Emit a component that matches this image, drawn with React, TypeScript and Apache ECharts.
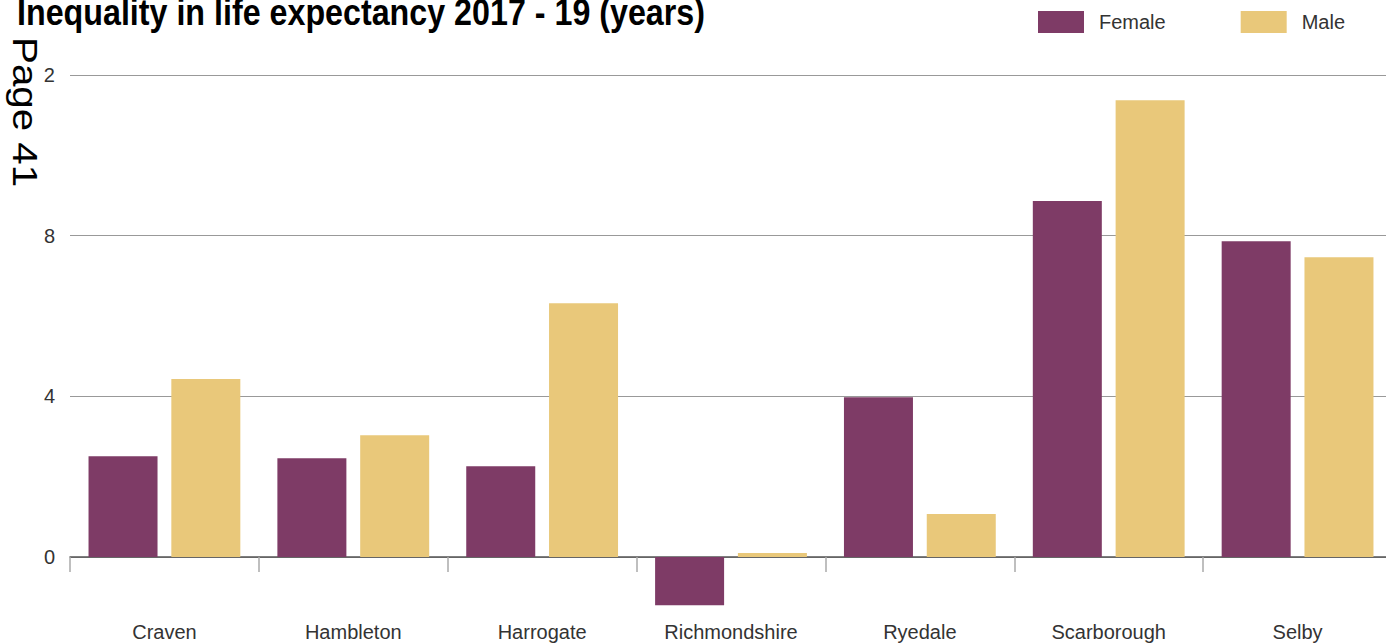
import React, { useEffect, useRef } from "react";
import * as echarts from "echarts";

const categories = ["Craven", "Hambleton", "Harrogate", "Richmondshire", "Ryedale", "Scarborough", "Selby"];
const female = [2.51, 2.46, 2.26, -1.2, 3.98, 8.86, 7.86];
const male = [4.43, 3.03, 6.32, 0.1, 1.07, 11.37, 7.46];
const yTicks = { min: 0, max: 12, interval: 4 };
const titleText = "Inequality in life expectancy 2017 - 19 (years)";
const pageText = "Page 41";

const FONT = "'Liberation Sans', Arial, Helvetica, sans-serif";

export default function App() {
  const ref = useRef<HTMLDivElement>(null);
  useEffect(() => {
    if (!ref.current) return;
    const chart = echarts.init(ref.current, null, { renderer: "svg" });
    chart.setOption({
      animation: false,
      backgroundColor: "#ffffff",
      textStyle: { fontFamily: FONT },
      legend: {
        left: 1038,
        top: 11,
        padding: 0,
        itemWidth: 46,
        itemHeight: 22,
        itemGap: 75,
        icon: "rect",
        textStyle: { fontSize: 20, color: "#333", fontFamily: FONT, padding: [0, 0, 0, 10] },
        data: ["Female", "Male"],
      },
      grid: { left: 70, top: 75, width: 1322, height: 482, containLabel: false },
      xAxis: {
        type: "category",
        data: categories,
        axisLine: { onZero: false, lineStyle: { color: "#555", width: 1.5 } },
        axisTick: { show: true, length: 15, lineStyle: { color: "#aaa", width: 1.5 } },
        axisLabel: { fontSize: 20, color: "#333", margin: 65, fontFamily: FONT, interval: 0 },
        splitLine: { show: false },
      },
      yAxis: {
        type: "value",
        min: yTicks.min,
        max: yTicks.max,
        interval: yTicks.interval,
        axisLine: { show: false },
        axisTick: { show: false },
        axisLabel: {
          fontSize: 20,
          color: "#333",
          margin: 15,
          fontFamily: FONT,
        },
        splitLine: { show: true, lineStyle: { color: "#999", width: 1.2 } },
      },
      series: [
        {
          name: "Female",
          type: "bar",
          data: female,
          barWidth: 69,
          barGap: "20%",
          clip: false,
          z: 1,
          itemStyle: { color: "#7E3B66" },
        },
        {
          name: "Male",
          type: "bar",
          data: male,
          barWidth: 69,
          clip: false,
          z: 1,
          itemStyle: { color: "#E9C87A" },
        },
      ],
      graphic: [
        {
          type: "text",
          left: 17,
          top: -6,
          scaleX: 0.896,
          z: 100,
          style: {
            text: titleText,
            font: `bold 36px ${FONT}`,
            fill: "#000",
          },
        },
        {
          type: "text",
          x: 8,
          y: 37,
          rotation: -Math.PI / 2,
          scaleX: 1.12,
          z: 100,
          style: {
            text: pageText,
            font: `36px ${FONT}`,
            fill: "#000",
            textAlign: "left",
            textVerticalAlign: "bottom",
            backgroundColor: "#fff",
          },
        },
      ],
    });
    return () => chart.dispose();
  }, []);
  return (
    <div style={{ position: "fixed", left: 0, top: 0, width: 1386, height: 644, overflow: "hidden", background: "#fff" }}>
      <div ref={ref} style={{ width: 1400, height: 800 }} />
    </div>
  );
}
